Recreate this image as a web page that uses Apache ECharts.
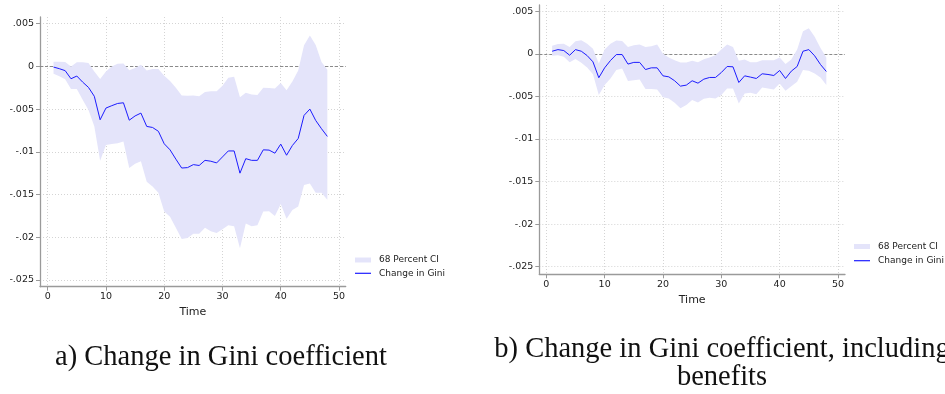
<!DOCTYPE html>
<html><head><meta charset="utf-8">
<script src="https://cdn.jsdelivr.net/npm/echarts@6/dist/echarts.min.js"></script>
<style>html,body{margin:0;padding:0;background:#fff}#c{width:945px;height:394px}</style>
</head><body><div id="c"></div>
<script>
// ---- data ----
const time = [1,2,3,4,5,6,7,8,9,10,11,12,13,14,15,16,17,18,19,20,21,22,23,24,25,26,27,28,29,30,31,32,33,34,35,36,37,38,39,40,41,42,43,44,45,46,47,48];

// Panel a) Change in Gini coefficient
const giniA = [-0.00008,-0.00027,-0.0005,-0.00145,-0.00113,-0.00184,-0.00246,-0.0035,-0.00625,-0.00488,-0.0046,-0.00434,-0.00426,-0.0063,-0.0058,-0.00547,-0.00703,-0.00715,-0.0076,-0.00906,-0.00977,-0.01086,-0.0119,-0.01185,-0.0115,-0.0116,-0.011,-0.0111,-0.0113,-0.0106,-0.0099,-0.0099,-0.0125,-0.0108,-0.011,-0.011,-0.00977,-0.0098,-0.01016,-0.0091,-0.0104,-0.00926,-0.00844,-0.00574,-0.005,-0.00633,-0.0073,-0.0082];
const upperA = [0.00055,0.00055,0.0005,0.0,0.00047,0.00047,0.0004,-0.00059,-0.00148,-0.0006,0.0,0.0003,0.00035,-0.00045,-0.0002,0.0002,-0.00047,-0.0003,-0.0003,-0.0011,-0.0017,-0.0025,-0.0034,-0.00344,-0.0034,-0.0035,-0.003,-0.0029,-0.0029,-0.00227,-0.00133,-0.0012,-0.0036,-0.0031,-0.0033,-0.00336,-0.0025,-0.00254,-0.0026,-0.00195,-0.0028,-0.00176,-0.00047,0.00246,0.0036,0.0025,0.0005,-0.0004];
const lowerA = [-0.00086,-0.00117,-0.0015,-0.00266,-0.00266,-0.0039,-0.0051,-0.007,-0.01105,-0.0092,-0.0091,-0.009,-0.0088,-0.0119,-0.0114,-0.0111,-0.0135,-0.01406,-0.0148,-0.017,-0.0176,-0.0189,-0.0202,-0.0201,-0.0196,-0.0196,-0.0189,-0.0193,-0.0195,-0.01906,-0.0186,-0.0187,-0.0213,-0.0184,-0.0187,-0.0186,-0.017,-0.01695,-0.0175,-0.0161,-0.01785,-0.0168,-0.0164,-0.0139,-0.0137,-0.0148,-0.0148,-0.0156];

// Panel b) Change in Gini coefficient, including benefits
const giniB = [0.00031,0.0005,0.00039,-0.00016,0.0005,0.00031,-0.0002,-0.00094,-0.0028,-0.00164,-0.00078,-0.00008,-0.00008,-0.0012,-0.001,-0.001,-0.00184,-0.00164,-0.00164,-0.00258,-0.0027,-0.00316,-0.00379,-0.00367,-0.00316,-0.00344,-0.00297,-0.00277,-0.00277,-0.00219,-0.00148,-0.00152,-0.00336,-0.00258,-0.00273,-0.00289,-0.00234,-0.00242,-0.00254,-0.00195,-0.00289,-0.00203,-0.00148,0.00031,0.0005,-0.00023,-0.00125,-0.00207];
const upperB = [0.00094,0.00117,0.0012,0.0008,0.00148,0.0016,0.0012,0.0006,-0.00113,0.0005,0.0012,0.00156,0.00152,0.0008,0.001,0.0011,0.0008,0.0009,0.0011,0.0,-0.00043,-0.00074,-0.001,-0.001,-0.00082,-0.00098,-0.00063,-0.00043,-0.00016,0.0005,0.0011,0.0008,-0.00082,-0.00066,-0.00098,-0.00098,-0.00074,-0.00074,-0.00074,-0.00043,-0.0012,-0.00066,0.0005,0.00266,0.003,0.002,0.0007,-0.00043];
const lowerB = [-0.00023,-0.00016,-0.00035,-0.00098,-0.00059,-0.00105,-0.0016,-0.00238,-0.00484,-0.00367,-0.00289,-0.0019,-0.00172,-0.0032,-0.0031,-0.003,-0.00414,-0.00414,-0.00418,-0.0051,-0.00523,-0.00574,-0.0064,-0.006,-0.00543,-0.0057,-0.00527,-0.00516,-0.00523,-0.00484,-0.00406,-0.00406,-0.00582,-0.00465,-0.00457,-0.00473,-0.00395,-0.00406,-0.00418,-0.00348,-0.00434,-0.00379,-0.00328,-0.0019,-0.00199,-0.0023,-0.00277,-0.00367];

// ticks
const xTicks = [0,10,20,30,40,50];
const yTicks = [-0.025,-0.02,-0.015,-0.01,-0.005,0,0.005];
const yTickLabels = ['-.025','-.02','-.015','-.01','-.005','0','.005'];
const seriesNames = ['68 Percent CI','Change in Gini'];
const xName = 'Time';
const captionA = 'a) Change in Gini coefficient';
const captionB = 'b) Change in Gini coefficient, including\nbenefits';

// ---- styles ----
const BAND = '#e4e4fa';
const LINE = '#1c1cff';
const AXIS = '#9a9a9a';
const GRIDC = '#d4d4d4';
const TXT = '#222';
const FONT = 'DejaVu Sans';

function yFmt(v){
  let best = 0, bd = Infinity;
  yTicks.forEach((t,i)=>{ const d = Math.abs(t - v); if (d < bd){ bd = d; best = i; } });
  return yTickLabels[best];
}

const panels = [
  {grid:{left:40, top:17, width:305.7, height:269.7}, xMin:-1.32, xMax:51.15, yMin:-0.02579, yMax:0.00578, gini:giniA, lower:lowerA, upper:upperA},
  {grid:{left:539.3, top:5, width:305.7, height:269.3}, xMin:-1.2, xMax:51.2, yMin:-0.02589, yMax:0.00574, gini:giniB, lower:lowerB, upper:upperB}
];

function bandRenderer(lower, upper){
  return function(params, api){
    if (params.dataIndex !== 0) return null;
    const pts = [];
    for (let k = 0; k < time.length; k++) pts.push(api.coord([time[k], upper[k]]));
    for (let k = time.length - 1; k >= 0; k--) pts.push(api.coord([time[k], lower[k]]));
    return {type:'polygon', shape:{points:pts}, style:{fill:BAND}};
  };
}

const grids = [], xAxes = [], yAxes = [], series = [];
panels.forEach((p, i) => {
  grids.push(Object.assign({containLabel:false}, p.grid));
  xAxes.push({
    type:'value', gridIndex:i, min:p.xMin, max:p.xMax,
    axisLine:{show:true, onZero:false, lineStyle:{color:AXIS, width:1.3}},
    axisTick:{show:true, length:4, customValues:xTicks, lineStyle:{color:AXIS, width:1}},
    axisLabel:{customValues:xTicks, margin:5, fontSize:9.5, color:TXT, fontFamily:FONT},
    splitLine:{show:true, lineStyle:{color:GRIDC, type:[1,2], width:1}},
    name:xName, nameLocation:'middle', nameGap:20,
    nameTextStyle:{fontSize:11, color:TXT, fontFamily:FONT}
  });
  yAxes.push({
    type:'value', gridIndex:i, min:p.yMin, max:p.yMax,
    axisLine:{show:true, onZero:false, lineStyle:{color:AXIS, width:1.3}},
    axisTick:{show:true, length:4, customValues:yTicks, lineStyle:{color:AXIS, width:1}},
    axisLabel:{customValues:yTicks, margin:6, fontSize:9.5, color:TXT, fontFamily:FONT, formatter:yFmt},
    splitLine:{show:true, lineStyle:{color:GRIDC, type:[1,2], width:1}}
  });
  series.push({
    name:seriesNames[0], type:'custom', xAxisIndex:i, yAxisIndex:i,
    data: time.map((t,k)=>[t, p.lower[k], p.upper[k]]),
    encode:{x:0, y:[1,2]}, renderItem: bandRenderer(p.lower, p.upper),
    itemStyle:{color:BAND}, silent:true, z:2
  });
  series.push({
    name:seriesNames[1], type:'line', xAxisIndex:i, yAxisIndex:i,
    data: time.map((t,k)=>[t, p.gini[k]]),
    symbol:'none', lineStyle:{color:LINE, width:1}, itemStyle:{color:LINE}, z:3,
    markLine:{silent:true, z:1, zlevel:0, symbol:['none','none'], label:{show:false},
      lineStyle:{color:'#8a8a8a', type:[3,2], width:1}, data:[{yAxis:0}]}
  });
});

const legendBase = {orient:'vertical', itemWidth:16, selectedMode:false, padding:0,
  textStyle:{fontSize:9, color:TXT, fontFamily:FONT, lineHeight:10, padding:[0,0,0,3]}};
const legends = [
  Object.assign({}, legendBase, {left:355, top:255, itemHeight:5, data:[{name:seriesNames[0], icon:'rect', itemStyle:{color:BAND}}]}),
  Object.assign({}, legendBase, {left:355, top:268.3, itemHeight:1.2, data:[{name:seriesNames[1], icon:'rect', itemStyle:{color:LINE}}]}),
  Object.assign({}, legendBase, {left:854, top:241.5, itemHeight:5, data:[{name:seriesNames[0], icon:'rect', itemStyle:{color:BAND}}]}),
  Object.assign({}, legendBase, {left:854, top:255.7, itemHeight:1.2, data:[{name:seriesNames[1], icon:'rect', itemStyle:{color:LINE}}]})
];

const chart = echarts.init(document.getElementById('c'), null, {renderer:'canvas'});
chart.setOption({
  animation:false,
  backgroundColor:'#fff',
  grid:grids, xAxis:xAxes, yAxis:yAxes, series:series, legend:legends,
  graphic:[
    {type:'text', x:221, y:358, style:{text:captionA, font:'28.5px "Liberation Serif"', fill:'#111', textAlign:'center', textVerticalAlign:'middle'}},
    {type:'text', x:722, y:364, style:{text:captionB, font:'28.5px "Liberation Serif"', fill:'#111', textAlign:'center', textVerticalAlign:'middle', lineHeight:28}}
  ]
});
</script>
</body></html>
